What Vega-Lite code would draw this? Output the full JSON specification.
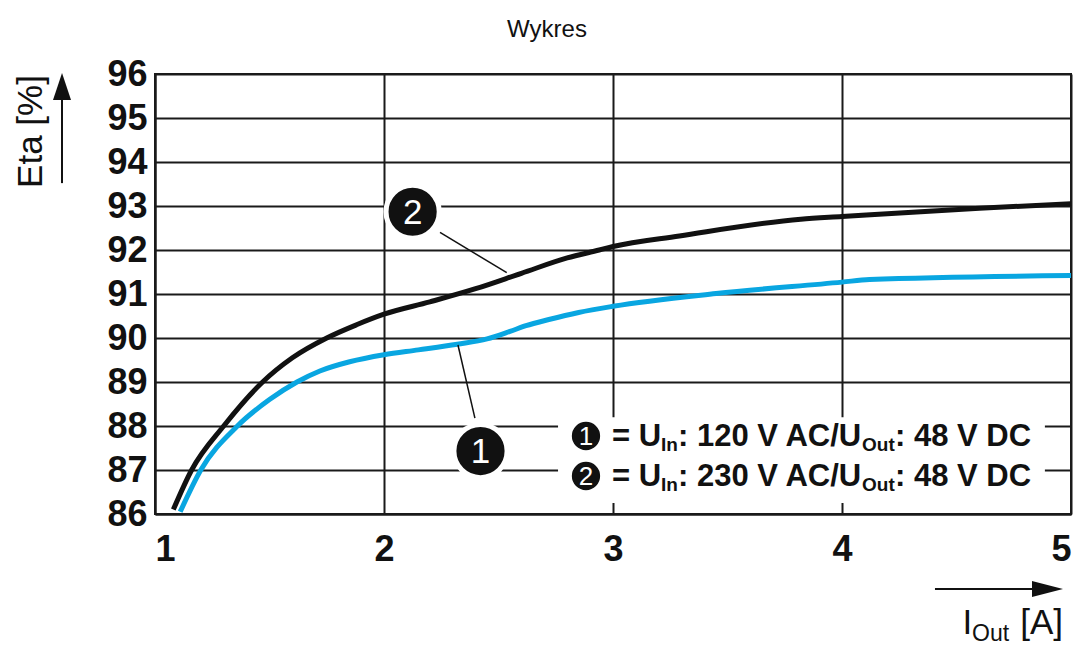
{
  "$schema": "https://vega.github.io/schema/vega-lite/v6.json",
  "width": 916,
  "height": 440,
  "autosize": {"type": "none"},
  "padding": {"left": 155, "top": 74, "right": 15, "bottom": 131},
  "background": "white",
  "config": {"view": {"stroke": "#1a1a1a", "strokeWidth": 2}, "font": "Liberation Sans"},
  "title": {"text": "Wykres", "fontSize": 24, "fontWeight": "normal", "font": "Liberation Sans", "color": "#111111", "anchor": "middle", "dx": -66, "offset": -5, "baseline": "alphabetic"},
  "datasets": {
    "curves": [
      {"series": "2", "x": 1.08, "y": 86.1},
      {"series": "2", "x": 1.16, "y": 87.0},
      {"series": "2", "x": 1.30, "y": 88.0},
      {"series": "2", "x": 1.47, "y": 89.0},
      {"series": "2", "x": 1.60, "y": 89.55},
      {"series": "2", "x": 1.75, "y": 90.0},
      {"series": "2", "x": 1.88, "y": 90.3},
      {"series": "2", "x": 2.0, "y": 90.54},
      {"series": "2", "x": 2.2, "y": 90.82},
      {"series": "2", "x": 2.4, "y": 91.12},
      {"series": "2", "x": 2.6, "y": 91.47},
      {"series": "2", "x": 2.8, "y": 91.82},
      {"series": "2", "x": 2.94, "y": 92.0},
      {"series": "2", "x": 3.0, "y": 92.08},
      {"series": "2", "x": 3.29, "y": 92.32},
      {"series": "2", "x": 3.82, "y": 92.7},
      {"series": "2", "x": 4.0, "y": 92.76},
      {"series": "2", "x": 4.6, "y": 92.95},
      {"series": "2", "x": 5.0, "y": 93.05},
      {"series": "1", "x": 1.11, "y": 86.05},
      {"series": "1", "x": 1.20, "y": 87.0},
      {"series": "1", "x": 1.36, "y": 88.0},
      {"series": "1", "x": 1.50, "y": 88.6},
      {"series": "1", "x": 1.62, "y": 89.0},
      {"series": "1", "x": 1.72, "y": 89.25},
      {"series": "1", "x": 1.85, "y": 89.46},
      {"series": "1", "x": 2.0, "y": 89.62},
      {"series": "1", "x": 2.15, "y": 89.73},
      {"series": "1", "x": 2.32, "y": 89.86},
      {"series": "1", "x": 2.45, "y": 89.98},
      {"series": "1", "x": 2.55, "y": 90.15},
      {"series": "1", "x": 2.62, "y": 90.28},
      {"series": "1", "x": 2.72, "y": 90.42},
      {"series": "1", "x": 2.85, "y": 90.58},
      {"series": "1", "x": 3.0, "y": 90.72},
      {"series": "1", "x": 3.45, "y": 91.01},
      {"series": "1", "x": 4.0, "y": 91.27},
      {"series": "1", "x": 4.12, "y": 91.33},
      {"series": "1", "x": 5.0, "y": 91.42}
    ],
    "leaders": [
      {"x": 2.2445, "y": 92.40, "x2": 2.536, "y2": 91.485},
      {"x": 2.323, "y": 89.84, "x2": 2.397, "y2": 88.18}
    ],
    "callouts": [
      {"label": "1", "x": 2.4214, "y": 87.43},
      {"label": "2", "x": 2.125, "y": 92.87}
    ],
    "legendBox": [{"x": 2.76, "x2": 4.886, "y": 86.25, "y2": 88.2}],
    "legendCircles": [
      {"label": "1", "x": 2.882, "y": 87.773},
      {"label": "2", "x": 2.882, "y": 86.864}
    ],
    "legendMain": [
      {"text": "= U", "x": 2.996, "y": 87.545},
      {"text": ": 120 V AC/U", "x": 3.2838, "y": 87.545},
      {"text": ": 48 V DC", "x": 4.2314, "y": 87.545},
      {"text": "= U", "x": 2.996, "y": 86.636},
      {"text": ": 230 V AC/U", "x": 3.2838, "y": 86.636},
      {"text": ": 48 V DC", "x": 4.2314, "y": 86.636}
    ],
    "legendSub": [
      {"text": "In", "x": 3.2096, "y": 87.44},
      {"text": "Out", "x": 4.0873, "y": 87.44},
      {"text": "In", "x": 3.2096, "y": 86.53},
      {"text": "Out", "x": 4.0873, "y": 86.53}
    ],
    "arrowLines": [
      {"x": 0.594, "x2": 0.594, "y": 93.52, "y2": 95.41},
      {"x": 4.406, "x2": 4.830, "y": 84.295, "y2": 84.295}
    ],
    "xTitleMain": [
      {"text": "I", "x": 4.526, "y": 83.273}
    ],
    "xTitleUnit": [
      {"text": "[A]", "x": 4.965, "y": 83.273}
    ],
    "xTitleSub": [
      {"text": "Out", "x": 4.568, "y": 83.114}
    ]
  },
  "encoding": {
    "x": {"field": "x", "type": "quantitative",
      "scale": {"domain": [1, 5], "nice": false, "zero": false},
      "axis": {"values": [1, 2, 3, 4, 5], "format": "d", "title": null,
        "labelFont": "Liberation Sans", "labelFontSize": 36, "labelFontWeight": "bold", "labelColor": "#111111",
        "labelPadding": 18, "labelBaseline": "top", "ticks": false,
        "grid": true, "gridColor": "#1a1a1a", "gridWidth": 2, "gridOpacity": 1,
        "domain": true, "domainColor": "#1a1a1a", "domainWidth": 2}},
    "y": {"field": "y", "type": "quantitative",
      "scale": {"domain": [86, 96], "nice": false, "zero": false},
      "axis": {"values": [86, 87, 88, 89, 90, 91, 92, 93, 94, 95, 96], "format": "d",
        "labelFont": "Liberation Sans", "labelFontSize": 36, "labelFontWeight": "bold", "labelColor": "#111111",
        "labelPadding": 8, "ticks": false,
        "grid": true, "gridColor": "#1a1a1a", "gridWidth": 2, "gridOpacity": 1,
        "domain": true, "domainColor": "#1a1a1a", "domainWidth": 2,
        "title": "Eta [%]", "titleFont": "Liberation Sans", "titleFontSize": 35, "titleFontWeight": "normal", "titleColor": "#111111",
        "titleAngle": -90, "titleX": -125, "titleY": 57, "titleAlign": "center", "titleBaseline": "middle"}}
  },
  "layer": [
    {"data": {"name": "legendBox"}, "mark": {"type": "rect", "fill": "white"},
      "encoding": {"x2": {"field": "x2"}, "y2": {"field": "y2"}}},
    {"data": {"name": "curves"}, "mark": {"type": "line", "interpolate": "monotone", "strokeWidth": 5, "strokeCap": "butt"},
      "encoding": {"color": {"field": "series", "type": "nominal", "scale": {"domain": ["1", "2"], "range": ["#09a6e1", "#111111"]}, "legend": null}}},
    {"data": {"name": "leaders"}, "mark": {"type": "rule", "color": "#111111", "strokeWidth": 1.5},
      "encoding": {"x2": {"field": "x2"}, "y2": {"field": "y2"}}},
    {"data": {"name": "callouts"}, "mark": {"type": "point", "shape": "circle", "filled": true, "fill": "#111111", "stroke": "white", "strokeWidth": 5, "size": 2827, "opacity": 1}},
    {"data": {"name": "callouts"}, "mark": {"type": "text", "fontSize": 35, "color": "white", "align": "center", "baseline": "middle", "dy": 1, "font": "Liberation Sans"},
      "encoding": {"text": {"field": "label"}}},
    {"data": {"name": "legendCircles"}, "mark": {"type": "point", "shape": "circle", "filled": true, "fill": "#111111", "size": 800, "opacity": 1}},
    {"data": {"name": "legendCircles"}, "mark": {"type": "text", "fontSize": 26, "color": "white", "align": "center", "baseline": "middle", "dy": 1, "font": "Liberation Sans"},
      "encoding": {"text": {"field": "label"}}},
    {"data": {"name": "legendMain"}, "mark": {"type": "text", "fontSize": 31, "fontWeight": "bold", "color": "#111111", "align": "left", "baseline": "alphabetic", "font": "Liberation Sans"},
      "encoding": {"text": {"field": "text"}}},
    {"data": {"name": "legendSub"}, "mark": {"type": "text", "fontSize": 19, "fontWeight": "bold", "color": "#111111", "align": "left", "baseline": "alphabetic", "font": "Liberation Sans"},
      "encoding": {"text": {"field": "text"}}},
    {"data": {"name": "arrowLines"}, "mark": {"type": "rule", "color": "#111111", "strokeWidth": 2},
      "encoding": {"x2": {"field": "x2"}, "y2": {"field": "y2"}}},
    {"data": {"values": [{"x": 0.594, "y": 95.716}]}, "mark": {"type": "point", "shape": "M-0.667,1L0,-1L0.667,1Z", "filled": true, "fill": "#111111", "size": 729, "opacity": 1}},
    {"data": {"values": [{"x": 4.8974, "y": 84.295}]}, "mark": {"type": "point", "shape": "M-1,-0.52L1,0L-1,0.52Z", "filled": true, "fill": "#111111", "size": 961, "opacity": 1}},
    {"data": {"name": "xTitleMain"}, "mark": {"type": "text", "fontSize": 35, "color": "#111111", "align": "left", "baseline": "alphabetic", "font": "Liberation Sans"},
      "encoding": {"text": {"field": "text"}}},
    {"data": {"name": "xTitleUnit"}, "mark": {"type": "text", "fontSize": 35, "color": "#111111", "align": "right", "baseline": "alphabetic", "font": "Liberation Sans"},
      "encoding": {"text": {"field": "text"}}},
    {"data": {"name": "xTitleSub"}, "mark": {"type": "text", "fontSize": 23, "color": "#111111", "align": "left", "baseline": "alphabetic", "font": "Liberation Sans"},
      "encoding": {"text": {"field": "text"}}}
  ]
}
